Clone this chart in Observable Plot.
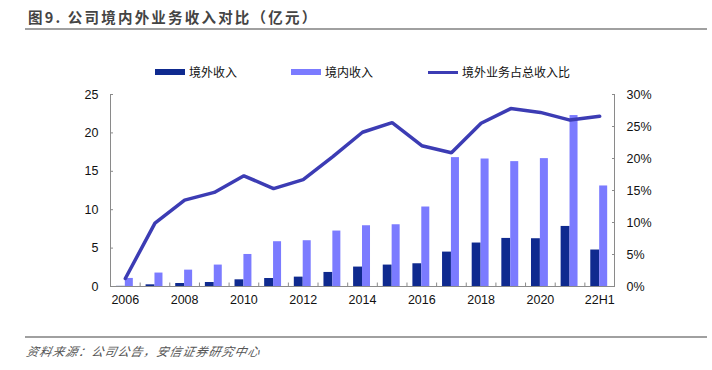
<!DOCTYPE html>
<html>
<head>
<meta charset="utf-8">
<script src="https://cdn.jsdelivr.net/npm/d3@7"></script>
<script src="https://cdn.jsdelivr.net/npm/@observablehq/plot@0.6"></script>
<style>
  html, body { margin: 0; padding: 0; background: #fff; }
  #wrap { position: relative; width: 712px; height: 370px; overflow: hidden; font-family: "Liberation Sans", Arial, sans-serif; }
  .title { position: absolute; left: 28px; top: 7px; font-family: "Noto Sans CJK SC", sans-serif; font-size: 14.5px; font-weight: 700; letter-spacing: 2.2px; color: #444; line-height: 20px; white-space: nowrap; }
  .hr { position: absolute; left: 25px; width: 682px; height: 2px; background: #a0a0a0; }
  .legend { position: absolute; top: 63px; left: 0; height: 18px; font-family: "Noto Sans CJK SC", sans-serif; font-size: 12px; color: #111; }
  .item { position: absolute; top: 0; white-space: nowrap; line-height: 18px; }
  .sw { position: absolute; }
  .src { position: absolute; left: 27px; top: 342px; font-family: "Noto Sans CJK SC", sans-serif; font-size: 12px; font-style: italic; letter-spacing: 1px; color: #555; white-space: nowrap; transform: skewX(-12deg); transform-origin: left; }
  #chart { position: absolute; left: 0; top: 80px; }
</style>
</head>
<body>
<div id="wrap">
  <div class="title">图9. 公司境内外业务收入对比（亿元）</div>
  <div class="hr" style="top:28px"></div>
  <div class="legend" id="legend"></div>
  <div id="chart"></div>
  <div class="hr" style="top:336px"></div>
  <div class="src">资料来源：公司公告，安信证券研究中心</div>
</div>
<script>
const categories = ["2006","2007","2008","2009","2010","2011","2012","2013","2014","2015","2016","2017","2018","2019","2020","2021","22H1"];
const overseas = [0.02, 0.22, 0.39, 0.52, 0.87, 1.04, 1.22, 1.83, 2.53, 2.79, 2.96, 4.48, 5.66, 6.26, 6.22, 7.82, 4.75];
const domestic = [1.05, 1.75, 2.13, 2.79, 4.17, 5.83, 5.96, 7.22, 7.91, 8.04, 10.35, 16.78, 16.6, 16.26, 16.65, 22.26, 13.09];
const sharePct = [1.25, 9.9, 13.5, 14.7, 17.3, 15.3, 16.7, 20.3, 24.1, 25.6, 22.0, 20.9, 25.5, 27.8, 27.2, 26.0, 26.6];
const leftTicks = [0, 5, 10, 15, 20, 25];
const rightTicks = [0, 5, 10, 15, 20, 25, 30];
const xLabels = categories.filter((d, i) => i % 2 === 0);
const seriesNames = ["境外收入", "境内收入", "境外业务占总收入比"];
const colors = ["#0f2a8f", "#7b7bff", "#3c3cb4"];

const leftMax = 25, rightMax = 30;
const toLeft = p => p * leftMax / rightMax;

const rows = categories.map((c, i) => ({cat: c, overseas: overseas[i], domestic: domestic[i], share: toLeft(sharePct[i])}));

const W = 712, H = 230, mL = 110, mR = 98, mT = 14, mB = 24;
const bw = (W - mL - mR) / categories.length;
const axisColor = "#8a8a8a";

const plot = Plot.plot({
  width: W, height: H,
  marginLeft: mL, marginRight: mR, marginTop: mT, marginBottom: mB,
  style: {fontFamily: "Liberation Sans, Arial, sans-serif", fontSize: "12.5px", color: "#111", background: "#fff"},
  x: {domain: categories, padding: 0, round: false, axis: null},
  y: {domain: [0, leftMax], axis: null},
  marks: [
    Plot.barY(rows, {x: "cat", y: "overseas", fill: colors[0], insetLeft: bw * 0.2, insetRight: bw * 0.5}),
    Plot.barY(rows, {x: "cat", y: "domestic", fill: colors[1], insetLeft: bw * 0.5, insetRight: bw * 0.23}),
    Plot.ruleY([0], {stroke: axisColor, strokeWidth: 1}),
    Plot.ruleX([categories[0]], {dx: -bw / 2, y1: 0, y2: leftMax, stroke: axisColor}),
    Plot.ruleX([categories[categories.length - 1]], {dx: bw / 2, y1: 0, y2: leftMax, stroke: axisColor}),
    Plot.ruleX(categories.slice(1), {dx: -bw / 2, y1: 0, y2: 0.45, stroke: axisColor}),
    Plot.line(rows, {x: "cat", y: "share", stroke: colors[2], strokeWidth: 3.5, strokeLinejoin: "miter"}),
    Plot.axisY({anchor: "left", ticks: leftTicks, tickSize: 3, dx: 3, stroke: axisColor, tickFormat: () => "", label: null}),
    Plot.axisY({anchor: "left", ticks: leftTicks, tickSize: 0, tickPadding: 12, fill: "#111", label: null}),
    Plot.axisY({anchor: "right", ticks: rightTicks.map(toLeft), tickSize: 3, dx: -3, stroke: axisColor, tickFormat: () => "", label: null}),
    Plot.axisY({anchor: "right", ticks: rightTicks.map(toLeft), tickSize: 0, tickPadding: 12, fill: "#111", label: null, tickFormat: d => Math.round(d * rightMax / leftMax) + "%"}),
    Plot.axisX({anchor: "bottom", ticks: xLabels, tickSize: 0, tickPadding: 9, fill: "#111", label: null})
  ]
});
document.getElementById("chart").appendChild(plot);

// legend
const legend = document.getElementById("legend");
const legendX = [155, 291, 428];
seriesNames.forEach((name, i) => {
  const sw = document.createElement("div");
  sw.className = "sw";
  const isLine = i === 2;
  sw.style.left = legendX[i] + "px";
  sw.style.width = "30px";
  sw.style.top = isLine ? "8px" : "6px";
  sw.style.height = isLine ? "3px" : "6px";
  sw.style.background = colors[i];
  legend.appendChild(sw);
  const t = document.createElement("div");
  t.className = "item";
  t.style.left = (legendX[i] + 34) + "px";
  t.textContent = name;
  legend.appendChild(t);
});
</script>
</body>
</html>
